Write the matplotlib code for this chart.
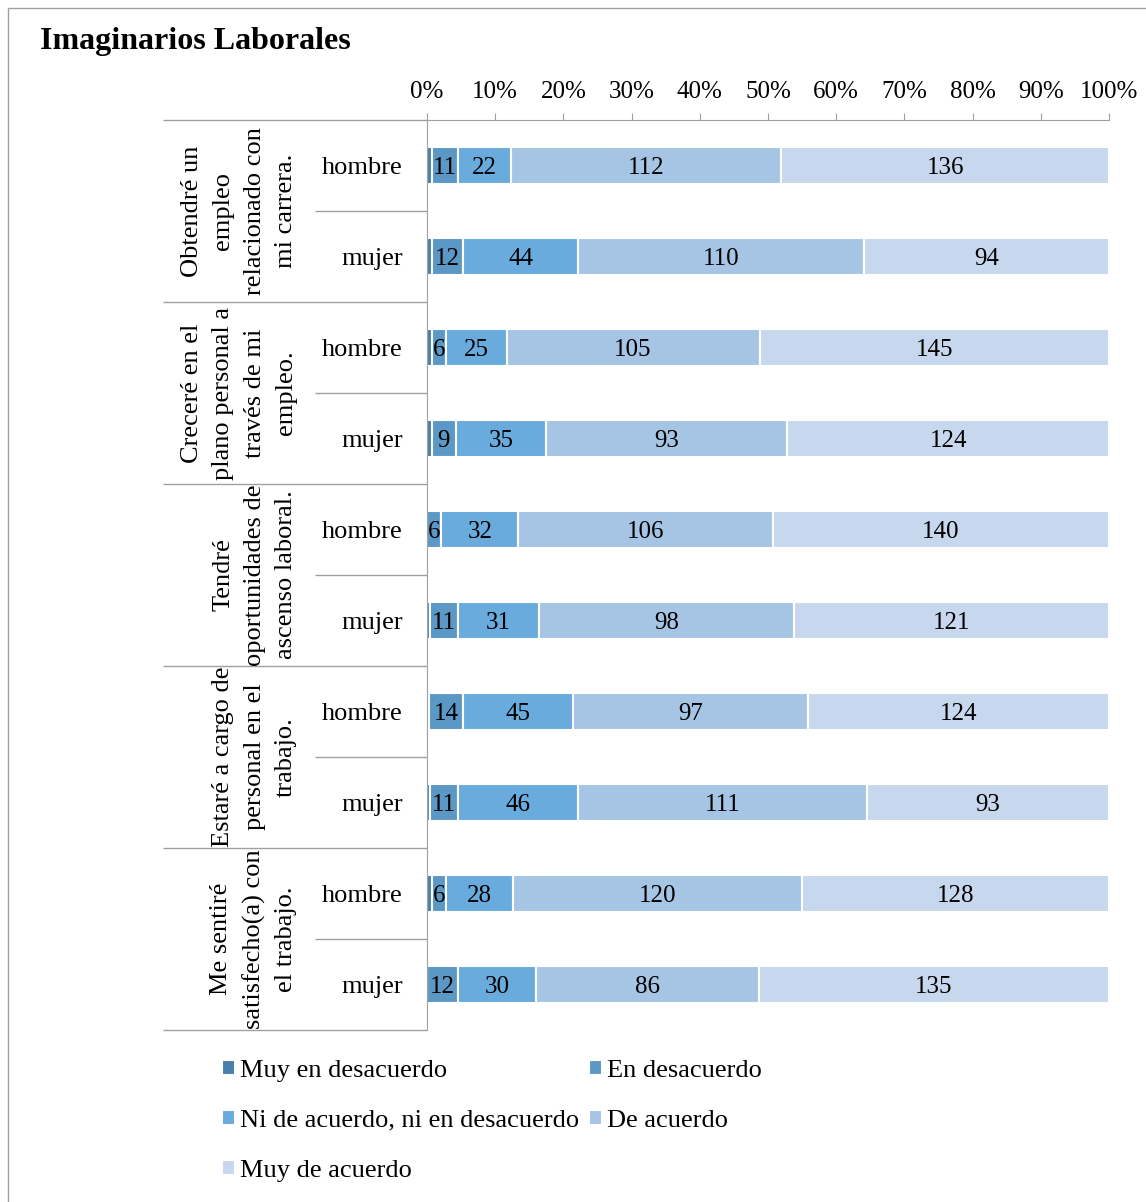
import numpy as np
import matplotlib.pyplot as plt
from matplotlib.patches import Rectangle

plt.rcParams['font.family'] = ['Liberation Serif', 'DejaVu Serif']

# datos
preguntas = ["Obtendré un\nempleo\nrelacionado con\nmi carrera.",
             "Creceré en el\nplano personal a\ntravés de mi\nempleo.",
             "Tendré\noportunidades de\nascenso laboral.",
             "Estaré a cargo de\npersonal en el\ntrabajo.",
             "Me sentiré\nsatisfecho(a) con\nel trabajo."]
sexos = ["hombre", "mujer"]
categorias = ["Muy en desacuerdo", "En desacuerdo", "Ni de acuerdo, ni en desacuerdo",
              "De acuerdo", "Muy de acuerdo"]

muy_desacuerdo = [2, 2, 2, 2, 0, 1, 1, 1, 2, 0]
desacuerdo = [11, 12, 6, 9, 6, 11, 14, 11, 6, 12]
neutral = [22, 44, 25, 35, 32, 31, 45, 46, 28, 30]
de_acuerdo = [112, 110, 105, 93, 106, 98, 97, 111, 120, 86]
muy_acuerdo = [136, 94, 145, 124, 140, 121, 124, 93, 128, 135]

colores = ['#4a7fab', '#5b98c6', '#68abdc', '#a6c5e5', '#c7d8ee']

series = np.array([muy_desacuerdo, desacuerdo, neutral, de_acuerdo, muy_acuerdo], dtype=float)
pct = series / series.sum(axis=0) * 100

W, H = 1146, 1202
fig = plt.figure(figsize=(W / 100, H / 100), dpi=100)
fig.add_artist(Rectangle((8 / W, -0.1), 1.2, 1.1 - 8 / H, transform=fig.transFigure,
                         fill=False, edgecolor='#a0a0a0', linewidth=1))
fig.text(40 / W, 1 - 42 / H, "Imaginarios Laborales", fontsize=23, fontweight='bold',
         va='center', ha='left')

ax = fig.add_axes([427 / W, 1 - 1030 / H, 682 / W, 910 / H])
y = np.arange(10)
left = np.zeros(10)
for i in range(5):
    ax.barh(y, pct[i], left=left, height=0.4, color=colores[i],
            edgecolor='white', linewidth=1.5, label=categorias[i])
    if i > 0:
        for j in range(10):
            ax.text(left[j] + pct[i][j] / 2, y[j], f"{int(series[i][j])}",
                    ha='center', va='center_baseline', fontsize=18)
    left += pct[i]

ax.set_xlim(0, 100)
ax.set_ylim(9.5, -0.5)
ax.xaxis.tick_top()
ax.set_xticks(np.arange(0, 101, 10))
ax.set_xticklabels([f"{v}%" for v in range(0, 101, 10)], fontsize=18)
ax.tick_params(axis='x', length=5, color='#a0a0a0', pad=7)
ax.set_yticks([])
for s in ['right', 'bottom']:
    ax.spines[s].set_visible(False)
for s in ['top', 'left']:
    ax.spines[s].set_color('#a0a0a0')

# etiquetas de categorías a la izquierda
tr = ax.get_yaxis_transform()
x_grupo = (163 - 427) / 682
x_sub = (315 - 427) / 682
ax.hlines(np.arange(-0.5, 10, 2), x_grupo, 0, transform=tr, color='#a0a0a0',
          linewidth=1, clip_on=False)
ax.hlines(np.arange(0.5, 10, 2), x_sub, 0, transform=tr, color='#a0a0a0',
          linewidth=1, clip_on=False)
for j in range(10):
    ax.text((403 - 427) / 682, y[j], sexos[j % 2], transform=tr, ha='right',
            va='center_baseline', fontsize=19)
for k, p in enumerate(preguntas):
    ax.text((297 - 427) / 682, 2 * k + 0.5, p, transform=tr, rotation=90,
            ha='right', va='center', multialignment='center', fontsize=19,
            linespacing=1.55)

h, l = ax.get_legend_handles_labels()
orden = [0, 2, 4, 1, 3]
fig.legend([h[i] for i in orden], [l[i] for i in orden], ncol=2, frameon=False,
           loc='upper left', bbox_to_anchor=(198 / W, 1 - 1036 / H),
           fontsize=19, handlelength=0.5, handleheight=0.5, handletextpad=0.2,
           labelspacing=1.06, columnspacing=0.35)

fig.savefig("out.png", dpi=100)
